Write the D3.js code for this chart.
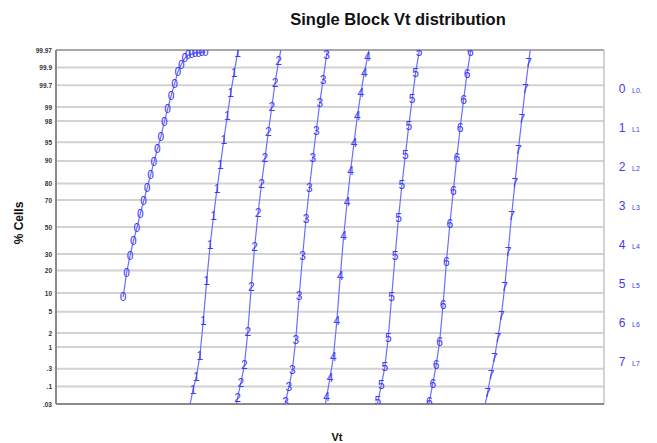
<!DOCTYPE html>
<html><head><meta charset="utf-8">
<script src="https://cdn.jsdelivr.net/npm/d3@7"></script>
<style>body{margin:0;background:#fff;} text{font-family:"Liberation Sans",Arial,Helvetica,sans-serif;}</style>
</head><body><svg id="c" width="657" height="443"></svg>
<script>
const seriesNames = ["0","1","2","3","4","5","6","7"];
const legendLabels = ["L0.","L1","L2","L3","L4","L5","L6","L7"];
const yTicks = [0.03,0.1,0.3,1,2,5,10,20,30,50,70,80,90,95,98,99,99.7,99.9,99.97];
const yTickLabels = [".03",".1",".3","1","2","5","10","20","30","50","70","80","90","95","98","99","99.7","99.9","99.97"];

const vt0 = [19.6,20.6,21.6,22.6,23.6,24.6,25.6,26.6,27.6,28.6,29.6,30.6,31.6,32.6,33.6,34.6,35.6,36.6,37.6,38.6,39.6,40.6,41.6,42.6,43.6];
const pct0 = [8.7,18.6,28.7,39.3,49.2,60.0,69.3,77.5,84.3,89.6,93.5,95.95,97.9,98.89,99.45,99.72,99.87,99.92,99.947,99.957,99.96,99.963,99.963,99.965,99.965];
const vt1 = [39,40,41,42,43,44,45,46,47,48,49,50,51,52,53,54];
const pct1 = [0.025,0.079,0.19,0.62,3.42,14.8,36.4,58.4,76.9,88.5,95.42,98.43,99.53,99.86,99.963,99.98];
const vt2 = [52,53,54,55,56,57,58,59,60,61,62,63,64,65,66];
const pct2 = [0.01,0.046,0.13,0.37,2.09,12.2,34.9,60.7,79.8,90.9,96.7,99.0,99.75,99.935,99.98];
const vt3 = [66,67,68,69,70,71,72,73,74,75,76,77,78,79,80];
const pct3 = [0.01,0.035,0.096,0.28,1.42,9.05,28.7,56.2,77.5,90.9,96.9,99.19,99.79,99.957,99.99];
const vt4 = [78,79,80,81,82,83,84,85,86,87,88,89,90,91,92];
const pct4 = [0.01,0.049,0.17,0.59,3.42,17.1,43.1,68.6,86.1,94.8,98.43,99.53,99.86,99.951,99.99];
const vt5 = [93,94,95,96,97,98,99,100,101,102,103,104,105,106,107];
const pct5 = [0.01,0.037,0.11,0.33,1.57,8.74,28.7,56.9,79.2,91.9,97.5,99.35,99.86,99.965,99.99];
const vt6 = [108,109,110,111,112,113,114,115,116,117,118,119,120,121,122];
const pct6 = [0.01,0.035,0.117,0.37,1.29,6.5,24.9,52.3,75.7,90.9,97.25,99.31,99.85,99.965,99.99];
const vt7 = [125,126,127,128,129,130,131,132,133,134,135,136,137,138,139];
const pct7 = [0.02,0.065,0.21,0.55,1.57,4.23,12.2,31.4,58.4,80.3,93.2,98.19,99.63,99.93,99.99];

const vts = [vt0,vt1,vt2,vt3,vt4,vt5,vt6,vt7];
const pcts = [pct0,pct1,pct2,pct3,pct4,pct5,pct6,pct7];

// inverse normal CDF (Acklam)
function probit(p){
  const a=[-3.969683028665376e+01,2.209460984245205e+02,-2.759285104469687e+02,1.383577518672690e+02,-3.066479806614716e+01,2.506628277459239e+00];
  const b=[-5.447609879822406e+01,1.615858368580409e+02,-1.556989798598866e+02,6.680131188771972e+01,-1.328068155288572e+01];
  const c=[-7.784894002430293e-03,-3.223964580411365e-01,-2.400758277161838e+00,-2.549732539343734e+00,4.374664141464968e+00,2.938163982698783e+00];
  const d=[7.784695709041462e-03,3.224671290700398e-01,2.445134137142996e+00,3.754408661907416e+00];
  const pl=0.02425, ph=1-pl; let q,r;
  if(p<pl){q=Math.sqrt(-2*Math.log(p));return (((((c[0]*q+c[1])*q+c[2])*q+c[3])*q+c[4])*q+c[5])/((((d[0]*q+d[1])*q+d[2])*q+d[3])*q+1);}
  if(p<=ph){q=p-0.5;r=q*q;return (((((a[0]*r+a[1])*r+a[2])*r+a[3])*r+a[4])*r+a[5])*q/(((((b[0]*r+b[1])*r+b[2])*r+b[3])*r+b[4])*r+1);}
  q=Math.sqrt(-2*Math.log(1-p));return -(((((c[0]*q+c[1])*q+c[2])*q+c[3])*q+c[4])*q+c[5])/((((d[0]*q+d[1])*q+d[2])*q+d[3])*q+1);
}

const L=56, R=604, T=50, B=404;
const svg = d3.select("#c");
const x = d3.scaleLinear().domain([0,160]).range([L,R]);
const yz = d3.scaleLinear().domain([probit(0.0003), probit(0.9997)]).range([B,T]);
const y = p => yz(probit(p/100));

const blue = "#3d3df2", lineBlue = "#6d6dff";

// title
svg.append("text").attr("x",398).attr("y",25).attr("text-anchor","middle")
  .attr("font-size",16.5).attr("font-weight","bold").attr("fill","#111").text("Single Block Vt distribution");

// grid
svg.append("g").selectAll("line").data(yTicks).join("line")
  .attr("x1",L).attr("x2",R).attr("y1",d=>y(d)).attr("y2",d=>y(d))
  .attr("stroke","#d2d2d2").attr("stroke-width",2);

// border
svg.append("line").attr("x1",L).attr("x2",R).attr("y1",T).attr("y2",T).attr("stroke","#a8a8a8").attr("stroke-width",2);
svg.append("line").attr("x1",R).attr("x2",R).attr("y1",T).attr("y2",B).attr("stroke","#c4c4c4").attr("stroke-width",1.5);
svg.append("line").attr("x1",L).attr("x2",R).attr("y1",B).attr("y2",B).attr("stroke","#8a8a8a").attr("stroke-width",2);
svg.append("line").attr("x1",L).attr("x2",L).attr("y1",T).attr("y2",B).attr("stroke","#8a8a8a").attr("stroke-width",2);

// y axis labels
const yAxis = d3.axisLeft(yz).tickValues(yTicks.map(p=>probit(p/100)))
  .tickFormat((d,i)=>yTickLabels[i]).tickSize(0).tickPadding(4);
const ga = svg.append("g").attr("transform",`translate(${L},0)`).call(yAxis);
ga.select(".domain").remove();
ga.selectAll("text").attr("font-size",6.5).attr("font-weight","bold").attr("fill","#333")
  .attr("font-family",'"Liberation Sans",Arial,sans-serif');

// axis titles
svg.append("text").attr("transform","translate(23,223) rotate(-90)").attr("text-anchor","middle")
  .attr("font-size",12).attr("font-weight","bold").attr("fill","#111").text("% Cells");
svg.append("text").attr("x",337).attr("y",441).attr("text-anchor","middle")
  .attr("font-size",11).attr("font-weight","bold").attr("fill","#111").text("Vt");

// clip
svg.append("clipPath").attr("id","plotclip").append("rect").attr("x",L).attr("y",T).attr("width",R-L).attr("height",B-T);
const plot = svg.append("g").attr("clip-path","url(#plotclip)");

const line = d3.line().x(d=>x(d[0])).y(d=>y(d[1]));
seriesNames.forEach((name,i)=>{
  const pts = vts[i].map((v,j)=>[v,pcts[i][j]]);
  plot.append("path").datum(pts).attr("d",line).attr("fill","none")
    .attr("stroke",lineBlue).attr("stroke-width",1.2);
  plot.append("g").selectAll("text").data(pts.filter(d=>d[1]>=0.03&&d[1]<=99.97)).join("text")
    .attr("x",d=>x(d[0])).attr("y",d=>y(d[1])).attr("dy","0.36em")
    .attr("text-anchor","middle").attr("font-size",12).attr("fill",blue).text(name);
});

// legend
const lg = svg.append("g");
seriesNames.forEach((name,i)=>{
  const yy = 89 + i*39;
  lg.append("text").attr("x",622).attr("y",yy).attr("dy","0.36em").attr("text-anchor","middle")
    .attr("font-size",12).attr("fill",blue).text(name);
  lg.append("text").attr("x",632).attr("y",yy+1).attr("dy","0.36em")
    .attr("font-size",7).attr("fill",blue).text(legendLabels[i]);
});
</script></body></html>
